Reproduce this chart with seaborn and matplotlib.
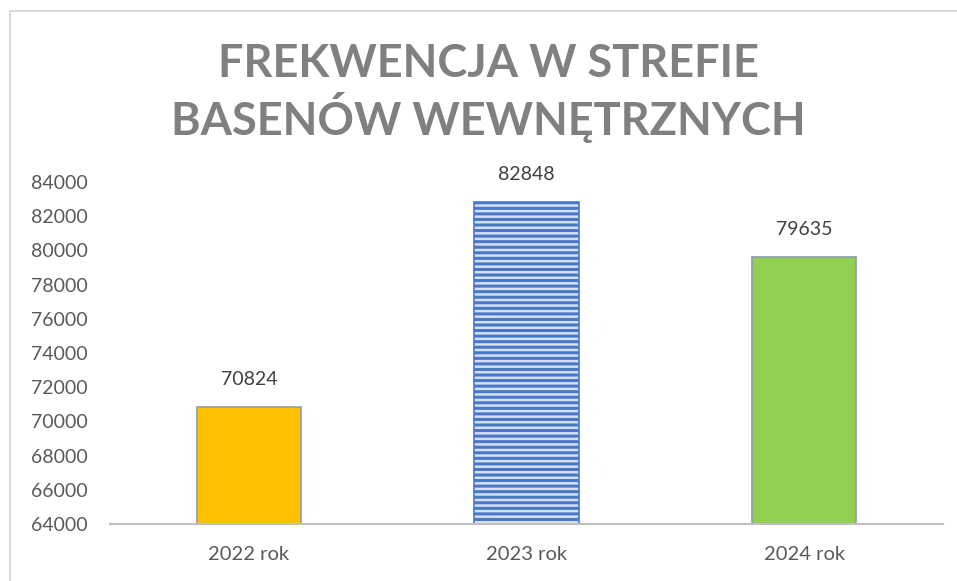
import matplotlib
matplotlib.use("Agg")
import matplotlib.pyplot as plt
import seaborn as sns
import pandas as pd
from matplotlib.lines import Line2D

years = ["2022 rok", "2023 rok", "2024 rok"]
visits = [70824, 82848, 79635]
bar_colors = ["#FFC000", "#D6E0F3", "#92D050"]
yticks = list(range(64000, 84001, 2000))
title = "FREKWENCJA W STREFIE\nBASENÓW WEWNĘTRZNYCH"

sns.set_theme(style="white")
plt.rcParams["font.family"] = ["Lato", "DejaVu Sans"]
plt.rcParams["hatch.linewidth"] = 2.2

df = pd.DataFrame({"rok": years, "frekwencja": visits})

fig = plt.figure(figsize=(9.57, 5.81), dpi=100)
ax = fig.add_axes([110 / 957, 57 / 581, 833 / 957, 342 / 581])

sns.barplot(data=df, x="rok", y="frekwencja", hue="rok", palette=bar_colors,
            legend=False, width=0.375, ax=ax, saturation=1)

for i, p in enumerate(ax.patches):
    p.set_edgecolor("#8c9cab")
    p.set_linewidth(1.2)
    if i == 1:
        # striped middle bar
        p.set_hatch("---")
        p.set_edgecolor("#4A78C8")

for i, v in enumerate(visits):
    ax.text(i, v + 1100, str(v), ha="center", va="bottom",
            fontsize=14, color="#404040")

ax.set_ylim(64000, 84000)
ax.set_yticks(yticks)
ax.set_yticklabels([str(t) for t in yticks])
ax.set_xlim(-0.5, 2.5)
ax.set_xlabel("")
ax.set_ylabel("")
ax.tick_params(axis="y", length=0, pad=16, labelsize=14, labelcolor="#595959")
ax.tick_params(axis="x", length=0, pad=16, labelsize=14.5, labelcolor="#595959")

for s in ["top", "right", "left"]:
    ax.spines[s].set_visible(False)
ax.spines["bottom"].set_color("#bfbfbf")
ax.spines["bottom"].set_linewidth(1.5)

fig.text(488 / 957, 1 - 93 / 581, title, ha="center", va="center",
         fontsize=32.5, fontweight="bold", color="#808080", linespacing=1.17)

# chart frame (top and left edges)
fig.add_artist(Line2D([10 / 957, 1], [1 - 11 / 581, 1 - 11 / 581],
                      transform=fig.transFigure, color="#d9d9d9", lw=1.5))
fig.add_artist(Line2D([10 / 957, 10 / 957], [0, 1 - 11 / 581],
                      transform=fig.transFigure, color="#d9d9d9", lw=1.5))

fig.savefig("out.png", dpi=100)
